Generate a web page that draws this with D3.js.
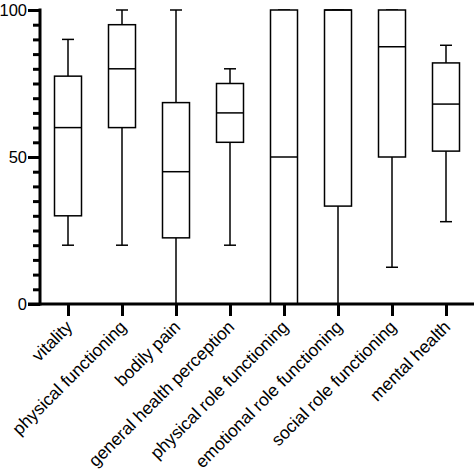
<!DOCTYPE html>
<html><head><meta charset="utf-8">
<script src="https://cdn.jsdelivr.net/npm/d3@7"></script>
<style>html,body{margin:0;padding:0;background:#fff;}svg{display:block;}</style>
</head><body>
<script>
const categories = ["vitality","physical functioning","bodily pain","general health perception","physical role functioning","emotional role functioning","social role functioning","mental health"];
const mins    = [20, 20, 0, 20, 0, 0, 12.5, 28];
const q1s     = [30, 60, 22.5, 55, 0, 33.3, 50, 52];
const medians = [60, 80, 45, 65, 50, 100, 87.5, 68];
const q3s     = [77.5, 95, 68.5, 75, 100, 100, 100, 82];
const maxs    = [90, 100, 100, 80, 100, 100, 100, 88];
const yTicks  = [0, 50, 100];

const W = 474, H = 474;
const svg = d3.select("body").append("svg").attr("width", W).attr("height", H);

const x = d3.scalePoint().domain(categories).range([68, 446]);
const y = d3.scaleLinear().domain([0, 100]).range([304, 10]);

const boxW = 27, capW = 12;
const data = categories.map((c,i)=>({c, min:mins[i], q1:q1s[i], med:medians[i], q3:q3s[i], max:maxs[i]}));

const g = svg.append("g");
const boxes = g.selectAll("g.box").data(data).enter().append("g");
boxes.append("line").attr("x1", d=>x(d.c)).attr("x2", d=>x(d.c)).attr("y1", d=>y(d.max)).attr("y2", d=>y(d.q3)).attr("stroke","#000").attr("stroke-width",1.5);
boxes.append("line").attr("x1", d=>x(d.c)).attr("x2", d=>x(d.c)).attr("y1", d=>y(d.q1)).attr("y2", d=>y(d.min)).attr("stroke","#000").attr("stroke-width",1.5);
boxes.append("line").attr("x1", d=>x(d.c)-capW/2).attr("x2", d=>x(d.c)+capW/2).attr("y1", d=>y(d.max)).attr("y2", d=>y(d.max)).attr("stroke","#000").attr("stroke-width",1.5);
boxes.append("line").attr("x1", d=>x(d.c)-capW/2).attr("x2", d=>x(d.c)+capW/2).attr("y1", d=>y(d.min)).attr("y2", d=>y(d.min)).attr("stroke","#000").attr("stroke-width",1.5);
boxes.append("rect").attr("x", d=>x(d.c)-boxW/2).attr("width", boxW).attr("y", d=>y(d.q3)).attr("height", d=>y(d.q1)-y(d.q3)).attr("fill","#fff").attr("stroke","#000").attr("stroke-width",1.5);
boxes.append("line").attr("x1", d=>x(d.c)-boxW/2).attr("x2", d=>x(d.c)+boxW/2).attr("y1", d=>y(d.med)).attr("y2", d=>y(d.med)).attr("stroke","#000").attr("stroke-width",1.5);

// Y axis
const yAxisG = svg.append("g").attr("transform","translate(40,0)");
yAxisG.call(d3.axisLeft(y).tickValues(d3.range(0,101,5)).tickSize(7).tickFormat(""));
yAxisG.selectAll(".tick line").attr("stroke-width",3);
yAxisG.call(g=>g.select(".domain").remove());
const yMajor = svg.append("g").attr("transform","translate(40,0)").call(d3.axisLeft(y).tickValues(yTicks).tickSize(12).tickPadding(1));
yMajor.select(".domain").remove();
yMajor.selectAll(".tick line").attr("stroke-width",3);
yMajor.selectAll("text").attr("font-family","Liberation Sans, Arial, sans-serif").attr("font-size",16.5).attr("fill","#000");
svg.append("line").attr("x1",40).attr("x2",40).attr("y1",y(100)-1.5).attr("y2",y(0)+1.5).attr("stroke","#000").attr("stroke-width",3);

// X axis
const xAxisG = svg.append("g").attr("transform","translate(0,304)").call(d3.axisBottom(x).tickSize(12).tickSizeOuter(0));
xAxisG.select(".domain").remove();
xAxisG.selectAll(".tick line").attr("stroke-width",3);
xAxisG.selectAll("text")
  .attr("font-family","Liberation Sans, Arial, sans-serif").attr("font-size",17.5).attr("fill","#000")
  .attr("text-anchor","end").attr("dy",0).attr("y",0)
  .attr("transform","translate(5,24) rotate(-45)");
svg.append("line").attr("x1",28).attr("x2",474).attr("y1",304).attr("y2",304).attr("stroke","#000").attr("stroke-width",3);
</script>
</body></html>
